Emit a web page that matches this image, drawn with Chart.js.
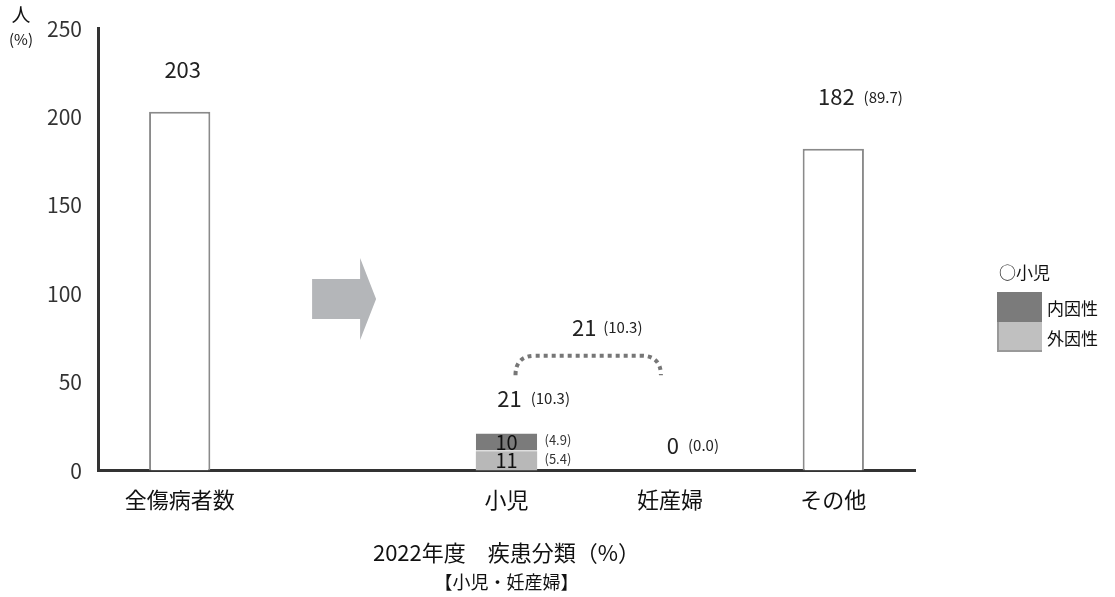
<!DOCTYPE html>
<html lang="ja">
<head>
<meta charset="utf-8">
<script src="https://cdn.jsdelivr.net/npm/chart.js@4/dist/chart.umd.min.js"></script>
<style>
  html, body { margin: 0; padding: 0; background: #fff; }
  #wrap { position: relative; width: 1115px; height: 597px; font-family: "Noto Sans CJK JP", sans-serif; }
  #legend { position: absolute; left: 997px; top: 261px; color: #111; }
  #legend .head { font-size: 17px; line-height: 22px; margin-left: 2px; margin-bottom: 9px; }
  #legend .row { display: flex; align-items: center; height: 30px; }
  #legend .box { width: 45px; height: 30px; margin-right: 5px; box-sizing: border-box; }
  #legend .lbl { font-size: 17px; }
  #unit { position: absolute; left: 8px; top: 1px; color: #111; text-align: center; width: 26px; }
</style>
</head>
<body>
<div id="wrap">
  <canvas id="chart" width="1115" height="597"></canvas>
  <div id="unit"><div style="font-size:19px;line-height:26px">人</div><div style="font-size:15px;line-height:24px">(%)</div></div>
  <div id="legend"></div>
</div>
<script>
// Data
const categories = ["全傷病者数", "", "小児", "妊産婦", "その他"];
const totalValues = [203, null, null, null, 182];
const endogenous = [null, null, 10, null, null];   // 内因性
const exogenous = [null, null, 11, null, null];    // 外因性
const sumValues = [203, null, 21, 0, 182];
const sumPercents = [null, null, "10.3", "0.0", "89.7"];
const endoPercents = [null, null, "4.9", null, null];
const exoPercents = [null, null, "5.4", null, null];
const bracketLabel = "21";
const bracketPercent = "10.3";
const yTicks = [0, 50, 100, 150, 200, 250];

const FONT = "'Noto Sans CJK JP', sans-serif";
const DARK = "#7b7b7b";
const LIGHT = "#b8b8b8";

// Legend
document.getElementById("legend").innerHTML =
  '<div class="head">○小児</div>' +
  '<div class="row"><div class="box" style="background:' + DARK + '"></div><span class="lbl">内因性</span></div>' +
  '<div class="row"><div class="box" style="background:#c0c0c0;border-left:2px solid #999;border-bottom:2px solid #999"></div><span class="lbl">外因性</span></div>';

// Draws value labels, the bracket and the arrow
const annotations = {
  id: "annotations",
  afterDatasetsDraw(chart) {
    const ctx = chart.ctx;
    const x = chart.scales.x;
    const y = chart.scales.y;
    ctx.save();
    ctx.textBaseline = "middle";

    // arrow between categories
    const ax = x.getPixelForValue(1);
    const ay = y.getPixelForValue(97);
    ctx.fillStyle = "#b4b6b9";
    ctx.beginPath();
    ctx.moveTo(ax - 31, ay - 20);
    ctx.lineTo(ax + 17, ay - 20);
    ctx.lineTo(ax + 17, ay - 41);
    ctx.lineTo(ax + 33, ay);
    ctx.lineTo(ax + 17, ay + 41);
    ctx.lineTo(ax + 17, ay + 20);
    ctx.lineTo(ax - 31, ay + 20);
    ctx.closePath();
    ctx.fill();

    // totals above bars
    sumValues.forEach((v, i) => {
      if (v === null) return;
      const cx = x.getPixelForValue(i);
      let ty;
      if (i === 0) ty = y.getPixelForValue(v) - 42;
      else if (i === 4) ty = y.getPixelForValue(v) - 52;
      else if (i === 2) ty = y.getPixelForValue(v) - 35;
      else ty = y.getPixelForValue(v) - 25;
      ctx.fillStyle = "#222";
      ctx.font = "22px " + FONT;
      ctx.textAlign = "center";
      ctx.fillText(String(v), cx + 3, ty);
      if (sumPercents[i] !== null) {
        const w = ctx.measureText(String(v)).width;
        ctx.font = "15px " + FONT;
        ctx.textAlign = "left";
        ctx.fillText("(" + sumPercents[i] + ")", cx + 3 + w / 2 + 9, ty);
      }
    });

    // stacked segment labels
    const bx = x.getPixelForValue(2);
    const seg = [[exogenous, exoPercents], [endogenous, endoPercents]];
    let base = 0;
    seg.forEach(([vals, pcts]) => {
      const v = vals[2];
      const mid = y.getPixelForValue(base + v / 2);
      ctx.fillStyle = "#111";
      ctx.font = "20px " + FONT;
      ctx.textAlign = "center";
      ctx.fillText(String(v), bx, mid);
      ctx.fillStyle = "#333";
      ctx.font = "13px " + FONT;
      ctx.textAlign = "left";
      ctx.fillText("(" + pcts[2] + ")", bx + 38, mid - 2);
      base += v;
    });

    // dotted bracket over 小児 and 妊産婦
    const lx = x.getPixelForValue(2) + 9;
    const rx = x.getPixelForValue(3) - 9;
    const low = y.getPixelForValue(54);
    const high = y.getPixelForValue(65);
    ctx.strokeStyle = "#777";
    ctx.lineWidth = 4;
    ctx.setLineDash([4, 4]);
    ctx.beginPath();
    ctx.moveTo(lx, low);
    ctx.quadraticCurveTo(lx, high, lx + 20, high);
    ctx.lineTo(rx - 20, high);
    ctx.quadraticCurveTo(rx, high, rx, low);
    ctx.stroke();
    ctx.setLineDash([]);

    const mx = (x.getPixelForValue(2) + x.getPixelForValue(3)) / 2;
    const my = y.getPixelForValue(81);
    ctx.fillStyle = "#222";
    ctx.font = "22px " + FONT;
    ctx.textAlign = "center";
    ctx.fillText(bracketLabel, mx - 4, my);
    ctx.font = "15px " + FONT;
    ctx.textAlign = "left";
    ctx.fillText("(" + bracketPercent + ")", mx + 15, my);

    ctx.restore();
  }
};

new Chart(document.getElementById("chart"), {
  type: "bar",
  data: {
    labels: categories,
    datasets: [
      {
        label: "全体",
        data: totalValues,
        backgroundColor: "#ffffff",
        borderColor: "#8a8a8a",
        borderWidth: 2,
        borderSkipped: "bottom",
      },
      {
        label: "外因性",
        data: exogenous,
        backgroundColor: LIGHT,
        borderWidth: 0,
      },
      {
        label: "内因性",
        data: endogenous,
        backgroundColor: DARK,
        borderColor: "#ffffff",
        borderWidth: { bottom: 1 },
        borderSkipped: false,
      },
    ],
  },
  options: {
    responsive: false,
    animation: false,
    layout: { padding: { top: 27, right: 200, left: 0, bottom: 0 } },
    datasets: { bar: { categoryPercentage: 1, barPercentage: 0.375 } },
    plugins: {
      legend: { display: false },
      tooltip: { enabled: false },
      title: {
        display: true,
        position: "bottom",
        fullSize: false,
        text: "【小児・妊産婦】",
        color: "#111",
        font: { family: FONT, size: 18, weight: "normal" },
        padding: { top: 6, bottom: 4 },
      },
    },
    scales: {
      x: {
        stacked: true,
        grid: { display: false, drawTicks: false },
        border: { color: "#333", width: 3 },
        ticks: { color: "#111", padding: 16, font: { family: FONT, size: 22 } },
        title: {
          display: true,
          text: "2022年度　疾患分類（%）",
          color: "#111",
          font: { family: FONT, size: 22 },
          padding: { top: 10, bottom: 0 },
        },
      },
      y: {
        stacked: true,
        min: 0,
        max: 250,
        afterFit(scale) { scale.width = 98; },
        afterBuildTicks(scale) { scale.ticks = yTicks.map((v) => ({ value: v })); },
        grid: { display: false, drawTicks: false },
        border: { color: "#333", width: 3 },
        ticks: { color: "#333", padding: 16, font: { family: FONT, size: 21 } },
      },
    },
  },
  plugins: [annotations],
});
</script>
</body>
</html>
